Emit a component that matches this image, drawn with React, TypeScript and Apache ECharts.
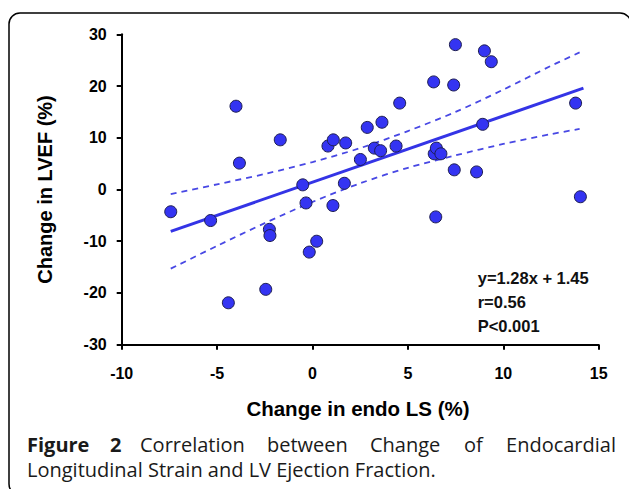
import React, { useEffect, useRef } from 'react';
import * as echarts from 'echarts';

// Scatter data: change in endo LS (%) vs change in LVEF (%)
const lsChange = [
  -7.43, -5.34, -4.41, -4.01, -3.83, -2.45, -2.26, -2.23, -1.69, -0.51,
  -0.34, -0.17, 0.22, 0.81, 1.07, 1.09, 1.67, 1.74, 2.51, 2.87,
  3.24, 3.57, 3.64, 4.38, 4.57, 6.35, 6.38, 6.46, 6.49, 6.73,
  7.40, 7.43, 7.49, 8.60, 8.92, 9.01, 9.37, 13.79, 14.04,
];
const lvefChange = [
  -4.3, -6.0, -21.9, 16.1, 5.1, -19.3, -7.7, -8.9, 9.6, 0.9,
  -2.6, -12.1, -10.0, 8.4, -3.1, 9.6, 1.2, 9.0, 5.8, 12.0,
  8.0, 7.5, 13.0, 8.4, 16.7, 20.8, 6.9, -5.3, 8.0, 6.9,
  20.2, 3.8, 28.0, 3.4, 12.6, 26.8, 24.7, 16.7, -1.4,
];

// Regression line end points
const fitX = [-7.43, 14.2];
const fitY = [-8.1, 19.6];

// 95% confidence band
const bandX = [-7.43, -5, -2.5, 0, 2.5, 5, 7.5, 10, 12.5, 14];
const bandUpper = [-0.9, 1.0, 3.0, 5.3, 8.0, 11.3, 15.0, 19.3, 23.9, 26.5];
const bandLower = [-15.3, -10.9, -6.5, -2.4, 1.2, 4.2, 6.6, 8.8, 10.7, 11.7];

// Axis ranges
const xMin = -10, xMax = 15, xStep = 5;
const yMin = -30, yMax = 30, yStep = 10;

const statLines = ['y=1.28x + 1.45', 'r=0.56', 'P<0.001'];
const xTitle = 'Change in endo LS (%)';
const yTitle = 'Change in LVEF (%)';
const captionLine1 = ['Figure', '2', 'Correlation', 'between', 'Change', 'of', 'Endocardial'];
const captionLine2 = 'Longitudinal Strain and LV Ejection Fraction.';

const ARIAL = 'Arial, "Liberation Sans", sans-serif';
const CAP = '"Open Sans", "Noto Sans", sans-serif';

export default function App() {
  const ref = useRef<HTMLDivElement>(null);
  useEffect(() => {
    document.body.style.margin = '0';
    const chart = echarts.init(ref.current!, undefined, { renderer: 'svg' });
    const pts = lsChange.map((x, i) => [x, lvefChange[i]]);
    const fit = fitX.map((x, i) => [x, fitY[i]]);
    const up = bandX.map((x, i) => [x, bandUpper[i]]);
    const lo = bandX.map((x, i) => [x, bandLower[i]]);

    const wordX = [27, 110, 140, 267, 370, 464, 616];
    const captionGraphics: any[] = captionLine1.map((w, i) => ({
      type: 'text',
      x: wordX[i],
      y: 444,
      style: {
        text: w,
        font: `${i < 2 ? 'bold ' : ''}20px ${CAP}`,
        fill: '#1a1a1a',
        align: i === captionLine1.length - 1 ? 'right' : 'left',
        verticalAlign: 'middle',
      },
    }));

    chart.setOption({
      animation: false,
      grid: { left: 121.7, right: 30.3, top: 34.3, bottom: 144.3, containLabel: false },
      xAxis: {
        type: 'value',
        min: xMin,
        max: xMax,
        interval: xStep,
        axisLine: { onZero: false, lineStyle: { color: '#000', width: 2 } },
        axisTick: { show: true, length: 5, lineStyle: { color: '#000', width: 2 } },
        splitLine: { show: false },
        axisLabel: { color: '#000', fontSize: 16, fontWeight: 'bold', fontFamily: ARIAL, margin: 21 },
      },
      yAxis: {
        type: 'value',
        min: yMin,
        max: yMax,
        interval: yStep,
        axisLine: { show: true, onZero: false, lineStyle: { color: '#000', width: 2 } },
        axisTick: { show: true, length: 5, lineStyle: { color: '#000', width: 2 } },
        splitLine: { show: false },
        axisLabel: { color: '#000', fontSize: 16, fontWeight: 'bold', fontFamily: ARIAL, margin: 15 },
      },
      series: [
        {
          type: 'line',
          data: up,
          smooth: 0.3,
          showSymbol: false,
          lineStyle: { color: '#4848e4', width: 1.8, type: [6, 5] },
          z: 2,
        },
        {
          type: 'line',
          data: lo,
          smooth: 0.3,
          showSymbol: false,
          lineStyle: { color: '#4848e4', width: 1.8, type: [6, 5] },
          z: 2,
        },
        {
          type: 'line',
          data: fit,
          showSymbol: false,
          lineStyle: { color: '#3434e6', width: 3 },
          z: 3,
        },
        {
          type: 'scatter',
          data: pts,
          symbol: 'circle',
          symbolSize: 12,
          itemStyle: { color: '#3434f2', borderColor: '#1c1c50', borderWidth: 1, opacity: 1 },
          z: 5,
        },
      ],
      graphic: [
        {
          type: 'rect',
          shape: { x: 9, y: 13, width: 622, height: 482, r: 11 },
          style: { fill: 'none', stroke: '#000', lineWidth: 1.5 },
          silent: true,
        },
        {
          type: 'text',
          x: 45,
          y: 189.5,
          rotation: Math.PI / 2,
          style: { text: yTitle, font: `bold 20px ${ARIAL}`, fill: '#000', align: 'center', verticalAlign: 'middle' },
        },
        {
          type: 'text',
          x: 358,
          y: 408,
          style: { text: xTitle, font: `bold 20.5px ${ARIAL}`, fill: '#000', align: 'center', verticalAlign: 'middle' },
        },
        ...statLines.map((t, i) => ({
          type: 'text',
          x: 477.7,
          y: 278.3 + i * 23.7,
          style: { text: t, font: `bold 16.5px ${ARIAL}`, fill: '#111', align: 'left', verticalAlign: 'middle' },
        })),
        ...captionGraphics,
        {
          type: 'text',
          x: 27,
          y: 469,
          style: { text: captionLine2, font: `20px ${CAP}`, fill: '#1a1a1a', align: 'left', verticalAlign: 'middle' },
        },
      ],
    });
    return () => chart.dispose();
  }, []);
  return <div ref={ref} style={{ width: 629, height: 489 }} />;
}
